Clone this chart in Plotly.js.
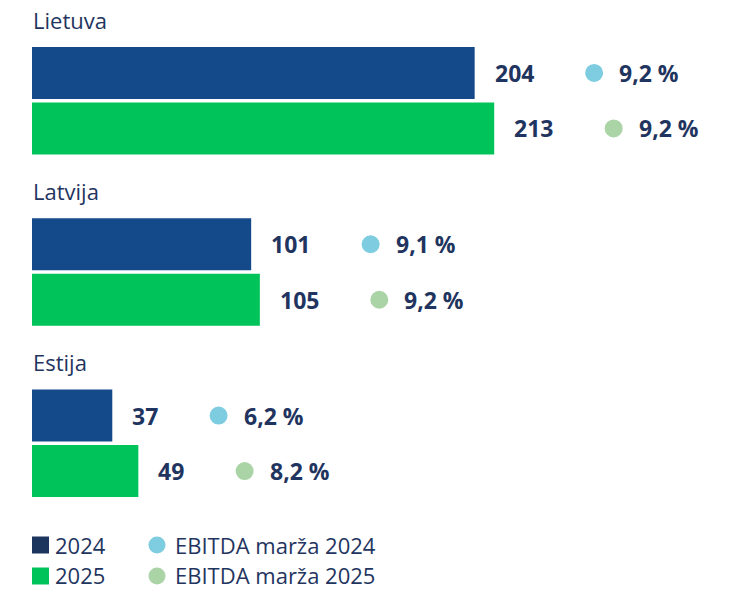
<!DOCTYPE html>
<html>
<head>
<meta charset="utf-8">
<script src="https://cdn.plot.ly/plotly-3.0.1.min.js"></script>
<style>html,body{margin:0;padding:0;background:#fff;overflow:hidden;}#chart{width:731px;height:590px;}</style>
</head>
<body>
<div id="chart"></div>
<script>
const categories = ['Lietuva', 'Latvija', 'Estija'];
const years = ['2024', '2025'];
const revenue2024 = [204, 101, 37];
const revenue2025 = [213, 105, 49];
const margin2024 = [9.2, 9.1, 6.2];
const margin2025 = [9.2, 9.2, 8.2];
const legendLabels = ['2024', '2025', 'EBITDA marža 2024', 'EBITDA marža 2025'];

const FONT = 'Open Sans, Noto Sans, sans-serif';
const TXT = '#1f3560';
const BAR_COLORS = ['#154a8a', '#00c35a'];
const LEGEND_SQ = ['#1c355e', '#00c35a'];
const DOT_COLORS = ['#7ecce0', '#aad4a6'];
const VAL_SIZE = 23;

const W = 731, H = 590;
const M = {l: 32, r: 0, t: 15, b: 61};
const plotW = W - M.l - M.r, plotH = H - M.t - M.b;
const SLOT = 27.75; // half distance between bars in a group, px

const ctx = document.createElement('canvas').getContext('2d');
function textW(s) { ctx.font = 'bold ' + VAL_SIZE + 'px "Open Sans"'; return ctx.measureText(s).width; }
const fmt = v => v.toFixed(1).replace('.', ',') + ' %';

const traces = [revenue2024, revenue2025].map((vals, i) => ({
  type: 'bar', orientation: 'h', name: years[i],
  x: vals, y: categories,
  marker: {color: BAR_COLORS[i]},
  hoverinfo: 'skip', showlegend: false
}));

const annotations = [];
const shapes = [];
categories.forEach((c, ci) => {
  annotations.push({
    xref: 'paper', x: 0, xanchor: 'left', xshift: -1,
    yref: 'y', y: c, yanchor: 'middle', yshift: 81,
    text: c, showarrow: false,
    font: {family: FONT, size: 22, color: TXT}
  });
  [[revenue2024, margin2024], [revenue2025, margin2025]].forEach((pair, si) => {
    const v = pair[0][ci], m = pair[1][ci];
    const ys = si === 0 ? SLOT : -SLOT;
    const lbl = String(v);
    const w = textW(lbl);
    annotations.push({
      xref: 'x', x: v, xanchor: 'left', xshift: 18,
      yref: 'y', y: c, yanchor: 'middle', yshift: ys,
      text: '<b>' + lbl + '</b>', showarrow: false,
      font: {family: FONT, size: VAL_SIZE, color: TXT}
    });
    const dotX = 18 + w + 62;
    shapes.push({
      type: 'circle', xref: 'x', xsizemode: 'pixel', xanchor: v,
      x0: dotX - 9, x1: dotX + 9,
      yref: 'y', ysizemode: 'pixel', yanchor: c,
      y0: ys - 9, y1: ys + 9,
      fillcolor: DOT_COLORS[si], line: {width: 0}
    });
    annotations.push({
      xref: 'x', x: v, xanchor: 'left', xshift: dotX + 23,
      yref: 'y', y: c, yanchor: 'middle', yshift: ys,
      text: '<b>' + fmt(m) + '</b>', showarrow: false,
      font: {family: FONT, size: VAL_SIZE, color: TXT}
    });
  });
});

// Manual legend
const px2x = p => (p - M.l) / plotW;
const py2y = p => (H - M.b - p) / plotH;
const legendRows = [545, 576];
const legendTextRows = [545, 574.5];
legendRows.forEach((ry, i) => {
  const ty = legendTextRows[i];
  shapes.push({
    type: 'rect', xref: 'paper', yref: 'paper',
    x0: px2x(32), x1: px2x(49), y0: py2y(ry + 8.5), y1: py2y(ry - 8.5),
    fillcolor: LEGEND_SQ[i], line: {width: 0}
  });
  annotations.push({
    xref: 'paper', x: px2x(53), xanchor: 'left',
    yref: 'paper', y: py2y(ty), yanchor: 'middle',
    text: legendLabels[i], showarrow: false,
    font: {family: FONT, size: 22, color: TXT}
  });
  shapes.push({
    type: 'circle', xref: 'paper', yref: 'paper',
    x0: px2x(148.5), x1: px2x(165.5), y0: py2y(ry + 8.5), y1: py2y(ry - 8.5),
    fillcolor: DOT_COLORS[i], line: {width: 0}
  });
  annotations.push({
    xref: 'paper', x: px2x(173), xanchor: 'left',
    yref: 'paper', y: py2y(ty), yanchor: 'middle',
    text: legendLabels[i + 2], showarrow: false,
    font: {family: FONT, size: 22, color: TXT}
  });
});

const layout = {
  width: W, height: H,
  margin: M,
  paper_bgcolor: '#fff', plot_bgcolor: '#fff',
  barmode: 'group', bargap: 0.352, bargroupgap: 0.063,
  xaxis: {range: [0, plotW / 2.17], visible: false, fixedrange: true},
  yaxis: {type: 'category', categoryorder: 'array', categoryarray: categories,
          range: [2.5, -0.5], autorange: false, visible: false, fixedrange: true},
  showlegend: false,
  annotations: annotations,
  shapes: shapes,
  font: {family: FONT, color: TXT}
};

Plotly.newPlot('chart', traces, layout, {displayModeBar: false, staticPlot: true});
</script>
</body>
</html>
